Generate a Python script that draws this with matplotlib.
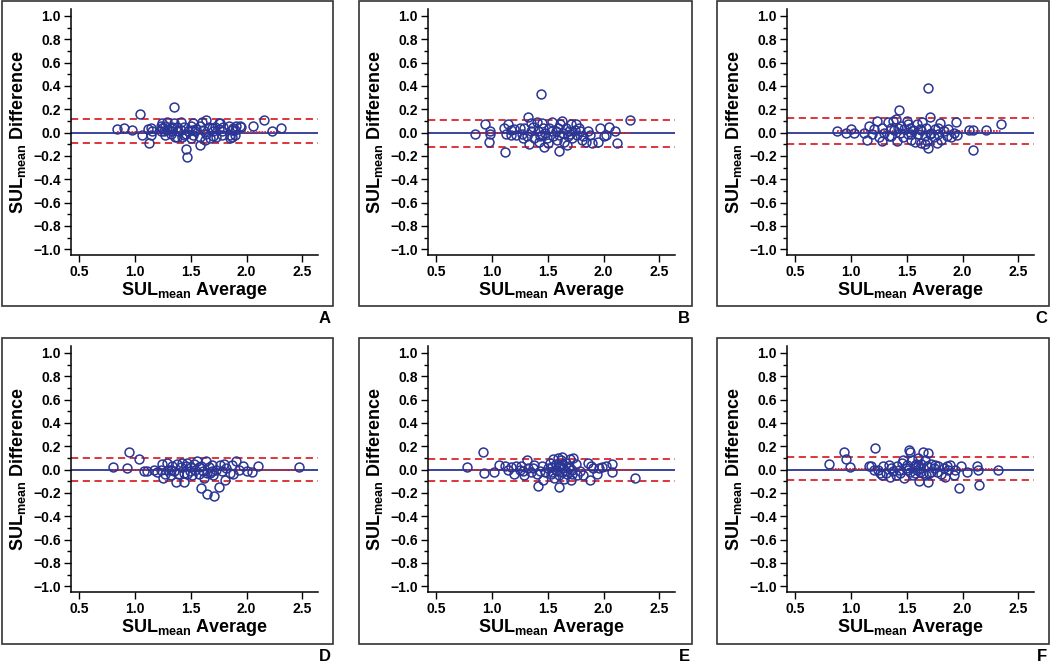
import matplotlib
matplotlib.use("Agg")
import matplotlib.pyplot as plt
from matplotlib.patches import Rectangle
from matplotlib.ticker import MultipleLocator

plt.rcParams['font.family'] = ['Liberation Sans', 'DejaVu Sans']
plt.rcParams['mathtext.fontset'] = 'custom'
plt.rcParams['mathtext.rm'] = 'Liberation Sans:bold'
plt.rcParams['mathtext.it'] = 'Liberation Sans:bold'
plt.rcParams['mathtext.bf'] = 'Liberation Sans:bold'

# panel A
a_x = [0.84, 0.90, 0.97, 1.05, 1.06, 1.12, 1.13, 1.14, 1.14, 1.15, 1.23, 1.24, 1.26, 1.24, 1.27,
       1.29, 1.32, 1.33, 1.35, 1.35, 1.36, 1.38, 1.39, 1.41, 1.42, 1.44, 1.46, 1.47, 1.48, 1.50,
       1.50, 1.52, 1.54, 1.55, 1.58, 1.58, 1.60, 1.61, 1.63, 1.64, 1.66, 1.67, 1.69, 1.70, 1.72,
       1.73, 1.75, 1.76, 1.78, 1.84, 1.85, 1.87, 1.90, 1.91, 1.94, 2.06, 2.16, 2.23, 2.31,
       1.23, 1.29, 1.46, 1.51, 1.33, 1.38, 1.64, 1.79, 1.88, 1.27, 1.41, 1.58, 1.75, 1.52, 1.70,
       1.87, 1.90, 1.78, 1.44, 1.32, 1.85, 1.95]
a_y = [0.03, 0.04, 0.02, 0.16, -0.02, 0.03, -0.09, 0.04, -0.02, 0.01, 0.06, 0.04, 0.01, 0.08, -0.02,
       0.09, 0.04, 0.01, 0.22, 0.08, -0.04, 0.05, 0.01, 0.09, -0.04, 0.05, -0.14, -0.21, 0.01, 0.06,
       -0.05, 0.08, 0.01, 0.03, -0.11, -0.04, 0.09, 0.02, -0.06, 0.11, 0.05, -0.05, 0.04, 0.01, 0.05,
       -0.04, 0.03, 0.08, 0.01, 0.06, -0.02, 0.02, -0.02, 0.06, 0.06, 0.06, 0.11, 0.01, 0.04,
       0.01, 0.02, -0.01, 0.02, 0.05, -0.04, -0.01, 0.05, 0.04, 0.06, 0.02, 0.06, 0.08, -0.02, -0.03,
       -0.04, 0.02, -0.02, -0.02, -0.01, -0.05, 0.05]

# panel B
b_x = [0.85, 0.94, 0.98, 0.97, 0.98, 1.12, 1.11, 1.14, 1.13, 1.17, 1.20, 1.22, 1.25, 1.27, 1.29,
       1.31, 1.32, 1.33, 1.35, 1.37, 1.38, 1.40, 1.41, 1.42, 1.44, 1.45, 1.45, 1.46, 1.47, 1.48,
       1.50, 1.51, 1.54, 1.55, 1.57, 1.58, 1.60, 1.61, 1.63, 1.64, 1.65, 1.66, 1.68, 1.69, 1.71,
       1.72, 1.74, 1.75, 1.76, 1.79, 1.82, 1.84, 1.86, 1.88, 1.90, 1.95, 1.97, 2.00, 2.02, 2.05,
       2.10, 2.12, 2.24, 1.17, 1.28, 1.49, 1.59, 1.67, 1.78, 1.81, 1.54, 1.43, 1.35, 1.70, 1.60]
b_y = [-0.01, 0.07, -0.01, -0.08, 0.01, -0.17, 0.04, 0.07, -0.01, -0.02, 0.03, -0.02, 0.04, -0.01, 0.04,
       -0.03, 0.13, -0.10, 0.01, 0.05, -0.05, 0.09, 0.01, -0.08, 0.335, 0.08, -0.02, 0.04, -0.12, 0.00,
       -0.09, 0.04, 0.09, -0.03, 0.01, -0.06, -0.16, 0.07, 0.10, 0.00, -0.08, 0.04, -0.03, 0.01, 0.07,
       -0.05, 0.02, 0.07, -0.02, 0.01, -0.03, -0.08, 0.01, -0.02, -0.09, -0.08, 0.04, -0.03, -0.02, 0.05,
       0.01, -0.09, 0.11, 0.02, -0.05, -0.05, 0.04, -0.11, 0.04, -0.06, 0.01, -0.03, 0.08, -0.01, -0.02]

# panel C
c_x = [0.88, 0.96, 1.00, 1.03, 1.12, 1.14, 1.16, 1.19, 1.21, 1.23, 1.25, 1.28, 1.28, 1.30, 1.33,
       1.34, 1.36, 1.38, 1.39, 1.40, 1.41, 1.43, 1.44, 1.45, 1.47, 1.48, 1.50, 1.51, 1.53, 1.54,
       1.56, 1.57, 1.59, 1.60, 1.62, 1.63, 1.64, 1.66, 1.67, 1.68, 1.69, 1.69, 1.71, 1.72, 1.74,
       1.75, 1.77, 1.78, 1.80, 1.81, 1.83, 1.86, 1.87, 1.90, 1.92, 1.94, 1.95, 2.06, 2.09, 2.09,
       2.21, 2.34, 1.36, 1.51, 1.63, 1.71, 1.54, 1.42, 1.78, 1.66]
c_y = [0.01, 0.00, 0.03, 0.00, 0.00, -0.06, 0.06, -0.01, 0.03, 0.10, -0.04, 0.04, -0.07, 0.00, 0.09,
       -0.03, 0.04, 0.10, 0.02, 0.12, -0.07, 0.19, 0.00, 0.06, -0.04, 0.03, 0.10, -0.01, 0.04, -0.06,
       0.02, -0.08, 0.07, -0.01, 0.03, -0.09, 0.09, -0.03, 0.04, -0.07, 0.385, -0.13, 0.13, 0.00, -0.04,
       0.03, -0.09, -0.01, 0.08, -0.06, 0.01, -0.03, 0.03, -0.04, 0.00, 0.09, -0.02, 0.02, 0.02, -0.15,
       0.02, 0.07, -0.03, 0.07, 0.02, -0.01, -0.01, 0.04, 0.04, -0.10]

# panel D
d_x = [0.80, 0.93, 0.95, 1.04, 1.08, 1.11, 1.17, 1.20, 1.23, 1.24, 1.25, 1.27, 1.29, 1.30, 1.32,
       1.33, 1.35, 1.37, 1.38, 1.39, 1.41, 1.42, 1.44, 1.44, 1.46, 1.47, 1.49, 1.51, 1.53, 1.54,
       1.56, 1.57, 1.59, 1.59, 1.61, 1.62, 1.64, 1.65, 1.66, 1.67, 1.69, 1.70, 1.71, 1.73, 1.75,
       1.76, 1.78, 1.80, 1.81, 1.82, 1.85, 1.87, 1.88, 1.91, 1.93, 1.97, 2.00, 2.05, 2.10, 2.47,
       1.50, 1.57, 1.65, 1.47, 1.32, 1.69]
d_y = [0.025, 0.01, 0.15, 0.09, -0.01, -0.01, 0.00, -0.02, 0.00, 0.05, -0.07, -0.04, 0.06, 0.00, -0.05,
       0.03, -0.01, -0.11, 0.05, -0.04, 0.02, 0.06, -0.03, -0.11, 0.03, 0.06, -0.01, -0.05, 0.05, 0.00,
       0.07, -0.04, -0.16, 0.03, -0.01, -0.07, 0.07, -0.21, 0.02, -0.03, 0.04, -0.05, -0.23, 0.00, -0.15,
       0.04, -0.01, 0.05, -0.09, 0.01, -0.03, 0.04, -0.04, 0.07, 0.00, 0.03, -0.01, -0.02, 0.03, 0.025,
       0.025, 0.02, -0.03, -0.04, 0.00, -0.01]

# panel E
e_x = [0.78, 0.92, 0.93, 1.02, 1.06, 1.12, 1.14, 1.17, 1.20, 1.22, 1.25, 1.26, 1.28, 1.29, 1.31,
       1.32, 1.35, 1.37, 1.38, 1.40, 1.41, 1.43, 1.45, 1.46, 1.48, 1.50, 1.52, 1.53, 1.54, 1.55,
       1.56, 1.57, 1.58, 1.59, 1.60, 1.60, 1.61, 1.62, 1.63, 1.63, 1.64, 1.65, 1.66, 1.67, 1.69,
       1.70, 1.71, 1.72, 1.73, 1.75, 1.76, 1.79, 1.82, 1.86, 1.88, 1.89, 1.91, 1.94, 1.96, 1.99,
       2.02, 2.08, 2.08, 2.28, 1.57, 1.60, 1.66, 1.69, 1.63, 1.72, 1.54]
e_y = [0.02, 0.15, -0.03, -0.02, 0.04, 0.03, 0.00, 0.02, -0.04, 0.03, 0.00, 0.03, -0.01, -0.05, 0.08,
       0.01, -0.02, 0.01, 0.04, -0.04, -0.145, -0.01, 0.03, -0.09, -0.02, 0.01, 0.06, -0.04, 0.02, 0.09,
       -0.07, 0.05, -0.01, 0.10, -0.15, -0.05, 0.03, 0.08, -0.02, 0.11, 0.01, -0.08, 0.06, -0.04, 0.03,
       0.09, -0.09, 0.00, 0.10, 0.05, -0.05, -0.01, -0.05, 0.06, -0.09, 0.03, 0.01, -0.04, 0.01, 0.02,
       0.03, 0.05, -0.02, -0.07, 0.00, 0.02, -0.01, 0.01, 0.05, -0.04, -0.02]

# panel F
f_x = [0.80, 0.94, 0.96, 0.99, 1.16, 1.18, 1.22, 1.21, 1.24, 1.26, 1.28, 1.29, 1.31, 1.34, 1.35,
       1.36, 1.38, 1.40, 1.41, 1.43, 1.44, 1.46, 1.47, 1.48, 1.49, 1.50, 1.52, 1.53, 1.53, 1.55,
       1.56, 1.57, 1.58, 1.59, 1.60, 1.61, 1.62, 1.63, 1.65, 1.65, 1.66, 1.68, 1.69, 1.69, 1.70,
       1.72, 1.74, 1.75, 1.77, 1.78, 1.81, 1.83, 1.84, 1.86, 1.87, 1.89, 1.92, 1.93, 1.97, 1.99,
       2.04, 2.13, 2.14, 2.15, 2.32, 1.57, 1.62, 1.60, 1.67, 1.51, 1.72]
f_y = [0.045, 0.15, 0.09, 0.02, 0.03, 0.03, 0.185, 0.00, 0.00, -0.03, -0.05, 0.03, -0.03, 0.04, -0.06,
       0.01, -0.01, -0.05, 0.03, 0.00, -0.03, 0.06, 0.08, -0.07, 0.01, 0.04, 0.165, 0.15, -0.02, 0.08,
       -0.05, 0.03, 0.05, 0.00, 0.10, -0.10, 0.01, 0.05, -0.03, 0.15, 0.08, 0.03, 0.145, -0.11, -0.03,
       0.05, 0.01, 0.04, -0.02, 0.03, -0.04, 0.01, -0.06, 0.03, 0.00, 0.04, -0.05, 0.00, -0.16, 0.03,
       -0.02, 0.03, 0.00, -0.13, 0.00, -0.03, -0.02, 0.04, -0.05, 0.00, -0.02]

panel_letters = ["A", "B", "C", "D", "E", "F"]
xs = [a_x, b_x, c_x, d_x, e_x, f_x]
ys = [a_y, b_y, c_y, d_y, e_y, f_y]
# mean difference and limits of agreement
means = [0.005, -0.005, 0.012, 0.0, -0.003, 0.008]
upper = [0.113, 0.110, 0.128, 0.102, 0.093, 0.110]
lower = [-0.092, -0.122, -0.100, -0.098, -0.097, -0.093]

W, H = 1050, 664
fig = plt.figure(figsize=(W / 100, H / 100), dpi=100)

blue = "#2b3594"
red = "#d9262e"

for i in range(6):
    col, row = i % 3, i // 3
    dx = [0, 357, 716][col]
    dy = [0, 337][row]
    left, right, top, bottom = 70.7 + dx, 318 + dx, 9 + dy, 255 + dy
    ax = fig.add_axes([left / W, 1 - bottom / H, (right - left) / W, (bottom - top) / H])

    x, y = xs[i], ys[i]
    ax.axhline(0, color=blue, lw=1.3, zorder=2)
    ax.axhline(upper[i], color=red, lw=1.3, ls=(0, (4, 2.5)), zorder=2)
    ax.axhline(lower[i], color=red, lw=1.3, ls=(0, (4, 2.5)), zorder=2)
    ax.plot([min(x), max(x)], [means[i], means[i]], color=red, lw=1.3, ls=(0, (1, 0.6)), zorder=2)
    ax.plot(x, y, 'o', mfc='none', mec=blue, ms=6.4, mew=1.1, zorder=3)

    ax.set_xlim(0.425, 2.64)
    ax.set_ylim(-1.05, 1.06)
    ax.set_xticks([0.5, 1.0, 1.5, 2.0, 2.5])
    ax.set_yticks([-1.0, -0.8, -0.6, -0.4, -0.2, 0.0, 0.2, 0.4, 0.6, 0.8, 1.0])
    ax.yaxis.set_minor_locator(MultipleLocator(0.1))
    ax.set_xticklabels(["0.5", "1.0", "1.5", "2.0", "2.5"])
    ax.set_yticklabels(["\u22121.0", "\u22120.8", "\u22120.6", "\u22120.4", "\u22120.2", "0.0",
                        "0.2", "0.4", "0.6", "0.8", "1.0"])
    for lab in ax.get_xticklabels() + ax.get_yticklabels():
        lab.set_fontweight("bold")
    ax.tick_params(labelsize=10, length=5, width=1, pad=2)
    ax.tick_params(which='minor', length=3, width=1)
    ax.spines['top'].set_visible(False)
    ax.spines['right'].set_visible(False)
    ax.spines['left'].set_linewidth(1.1)
    ax.spines['bottom'].set_linewidth(1.1)
    ax.set_xlabel(r"SUL$_{\rm mean}$ Average", fontsize=13, fontweight="bold", labelpad=1)
    ax.set_ylabel(r"SUL$_{\rm mean}$ Difference", fontsize=13, fontweight="bold", labelpad=4)

    # outer frame and panel letter
    fx0 = [2, 359, 717][col]
    fx1 = [333, 692, 1049][col]
    fy0 = [1, 338][row]
    fy1 = [306, 644][row]
    fig.add_artist(Rectangle((fx0 / W, 1 - fy1 / H), (fx1 - fx0) / W, (fy1 - fy0) / H,
                             transform=fig.transFigure, fill=False, ec="#333333", lw=1.2))
    fig.text((fx1 - 2) / W, 1 - (fy1 + 5) / H, panel_letters[i], ha="right", va="top",
             fontsize=12, fontweight="bold")

fig.savefig("out.png", dpi=100)
